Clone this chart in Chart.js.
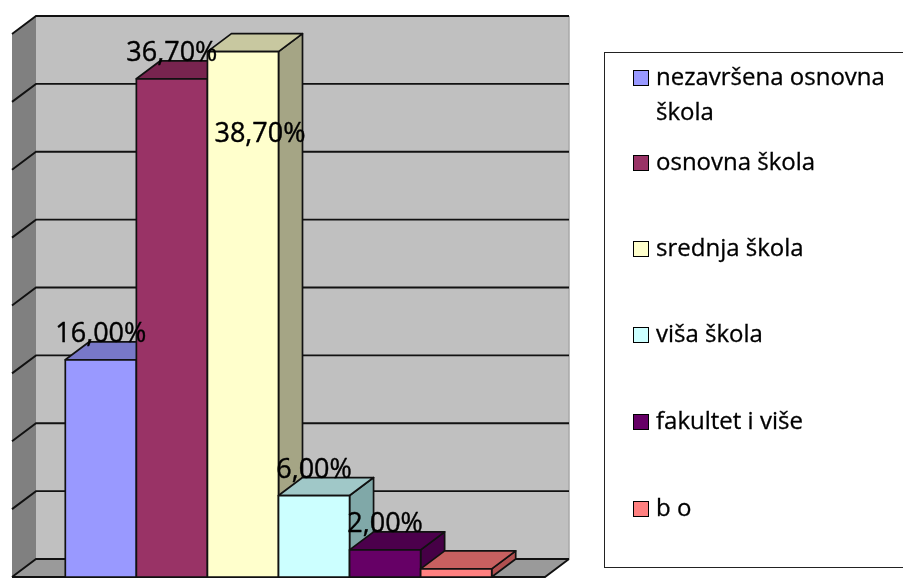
<!DOCTYPE html>
<html><head><meta charset="utf-8">
<script src="https://cdn.jsdelivr.net/npm/chart.js@4/dist/chart.umd.min.js"></script>
<style>
html,body{margin:0;padding:0;background:#fff;}
#wrap{position:relative;width:903px;height:580px;overflow:hidden;}
#c{position:absolute;left:0;top:0;}
#legend{position:absolute;left:604px;top:52px;width:320px;height:516px;border:1px solid #222;box-sizing:border-box;font-family:"Open Sans",sans-serif;font-size:24px;color:#000;-webkit-text-stroke:0.3px #000;}
.item{position:absolute;left:28px;display:flex;align-items:flex-start;}
.sw{width:14px;height:14px;border:1.8px solid #000;margin-top:12px;flex:none;}
.tx{width:240px;line-height:35px;margin-left:7px;}
</style>
</head><body>
<div id="wrap"><canvas id="c" width="903" height="580"></canvas><div id="legend"></div></div>
<script>
// ---- data ----
const categories = ['nezavršena osnovna škola','osnovna škola','srednja škola','viša škola','fakultet i više','b o'];
const values = [16.0, 36.7, 38.7, 6.0, 2.0, 0.6];
const valueLabels = ['16,00%','36,70%','38,70%','6,00%','2,00%',''];
const yTicks = [0,5,10,15,20,25,30,35,40];

// ---- styles ----
const frontColors = ['#9999FF','#993366','#FFFFCC','#CCFFFF','#660066','#FF8080'];
const topColors   = ['#7878C8','#78244F','#C8C8A0','#A0C8C8','#4C004C','#C86060'];
const sideColors  = ['#6060A0','#601C40','#A5A585','#80A8A8','#460046','#B05050'];
const labelNudgeX = [0,0,17,0,0,0];
const labelNudgeY = [0,0,108,0,0,0];
const legendTops  = [4.6, 89.6, 175.6, 261.6, 348.6, 435.6];
const DX = 24, DY = -18;

function poly(ctx, pts, fill, stroke, lw){
  ctx.beginPath();
  ctx.moveTo(pts[0][0], pts[0][1]);
  for (let k=1;k<pts.length;k++) ctx.lineTo(pts[k][0], pts[k][1]);
  ctx.closePath();
  if (fill){ctx.fillStyle=fill;ctx.fill();}
  if (stroke){ctx.strokeStyle=stroke;ctx.lineWidth=lw||1;ctx.stroke();}
}

const threeD = {
  id:'threeD',
  beforeDatasetsDraw(chart){
    const {ctx, chartArea:a, scales:{y}} = chart;
    const yT = y.getPixelForValue(yTicks[yTicks.length-1]);
    const y0 = y.getPixelForValue(0);
    ctx.save();
    poly(ctx, [[a.left+DX,yT+DY],[a.right+DX,yT+DY],[a.right+DX,y0+DY],[a.left+DX,y0+DY]], '#C0C0C0');
    poly(ctx, [[a.left,yT],[a.left+DX,yT+DY],[a.left+DX,y0+DY],[a.left,y0]], '#808080');
    poly(ctx, [[a.left,y0],[a.left+DX,y0+DY],[a.right+DX,y0+DY],[a.right,y0]], '#9A9A9A');
    ctx.strokeStyle='#A8A8A8'; ctx.lineWidth=1.5;
    ctx.beginPath(); ctx.moveTo(a.right+DX, yT+DY); ctx.lineTo(a.right+DX, y0+DY); ctx.stroke();
    ctx.strokeStyle='#111'; ctx.lineWidth=1.9;
    yTicks.forEach(v=>{
      const py = y.getPixelForValue(v);
      ctx.beginPath();
      ctx.moveTo(a.left, py);
      ctx.lineTo(a.left+DX, py+DY);
      ctx.lineTo(a.right+DX, py+DY);
      ctx.stroke();
    });
    ctx.strokeStyle='#111'; ctx.lineWidth=1.9;
    ctx.beginPath(); ctx.moveTo(a.left, y0); ctx.lineTo(a.right, y0); ctx.lineTo(a.right+DX, y0+DY); ctx.stroke();
    ctx.restore();
  },
  afterDatasetsDraw(chart){
    const ctx = chart.ctx;
    ctx.save();
    ctx.lineJoin='round';
    chart.data.datasets.forEach((d,i)=>{
      const el = chart.getDatasetMeta(i).data[0];
      const p = el.getProps(['x','y','base','width'], true);
      const l = p.x - p.width/2, r = p.x + p.width/2, t = p.y, b = p.base;
      poly(ctx, [[r,t],[r+DX,t+DY],[r+DX,b+DY],[r,b]], sideColors[i], '#111', 1.7);
      poly(ctx, [[l,t],[l+DX,t+DY],[r+DX,t+DY],[r,t]], topColors[i], '#111', 1.7);
      poly(ctx, [[l,t],[r,t],[r,b],[l,b]], frontColors[i], '#111', 1.7);
    });
    ctx.font = '27px "Open Sans"';
    ctx.fillStyle = '#000';
    ctx.strokeStyle = '#000';
    ctx.lineWidth = 0.4;
    ctx.textAlign = 'center';
    ctx.textBaseline = 'alphabetic';
    chart.data.datasets.forEach((d,i)=>{
      if (!valueLabels[i]) return;
      const el = chart.getDatasetMeta(i).data[0];
      const p = el.getProps(['x','y'], true);
      const tx = p.x + labelNudgeX[i], ty = p.y + DY + labelNudgeY[i];
      ctx.fillText(valueLabels[i], tx, ty);
      ctx.strokeText(valueLabels[i], tx, ty);
    });
    ctx.restore();
  }
};

new Chart(document.getElementById('c'), {
  type:'bar',
  data:{
    labels:[''],
    datasets: categories.map((c,i)=>({
      label:c, data:[values[i]],
      backgroundColor:frontColors[i], borderWidth:0,
      categoryPercentage:0.8, barPercentage:1.0
    }))
  },
  options:{
    responsive:false, animation:false,
    layout:{padding:{left:12,right:358,top:34,bottom:3}},
    plugins:{legend:{display:false}, tooltip:{enabled:false}},
    scales:{
      x:{display:false},
      y:{display:false, min:0, max:40}
    }
  },
  plugins:[threeD]
});

const lg = document.getElementById('legend');
categories.forEach((c,i)=>{
  const it = document.createElement('div');
  it.className='item'; it.style.top = legendTops[i]+'px';
  const sw = document.createElement('div'); sw.className='sw'; sw.style.background = frontColors[i];
  const tx = document.createElement('div'); tx.className='tx'; tx.textContent = c;
  it.appendChild(sw); it.appendChild(tx); lg.appendChild(it);
});
</script>
</body></html>
